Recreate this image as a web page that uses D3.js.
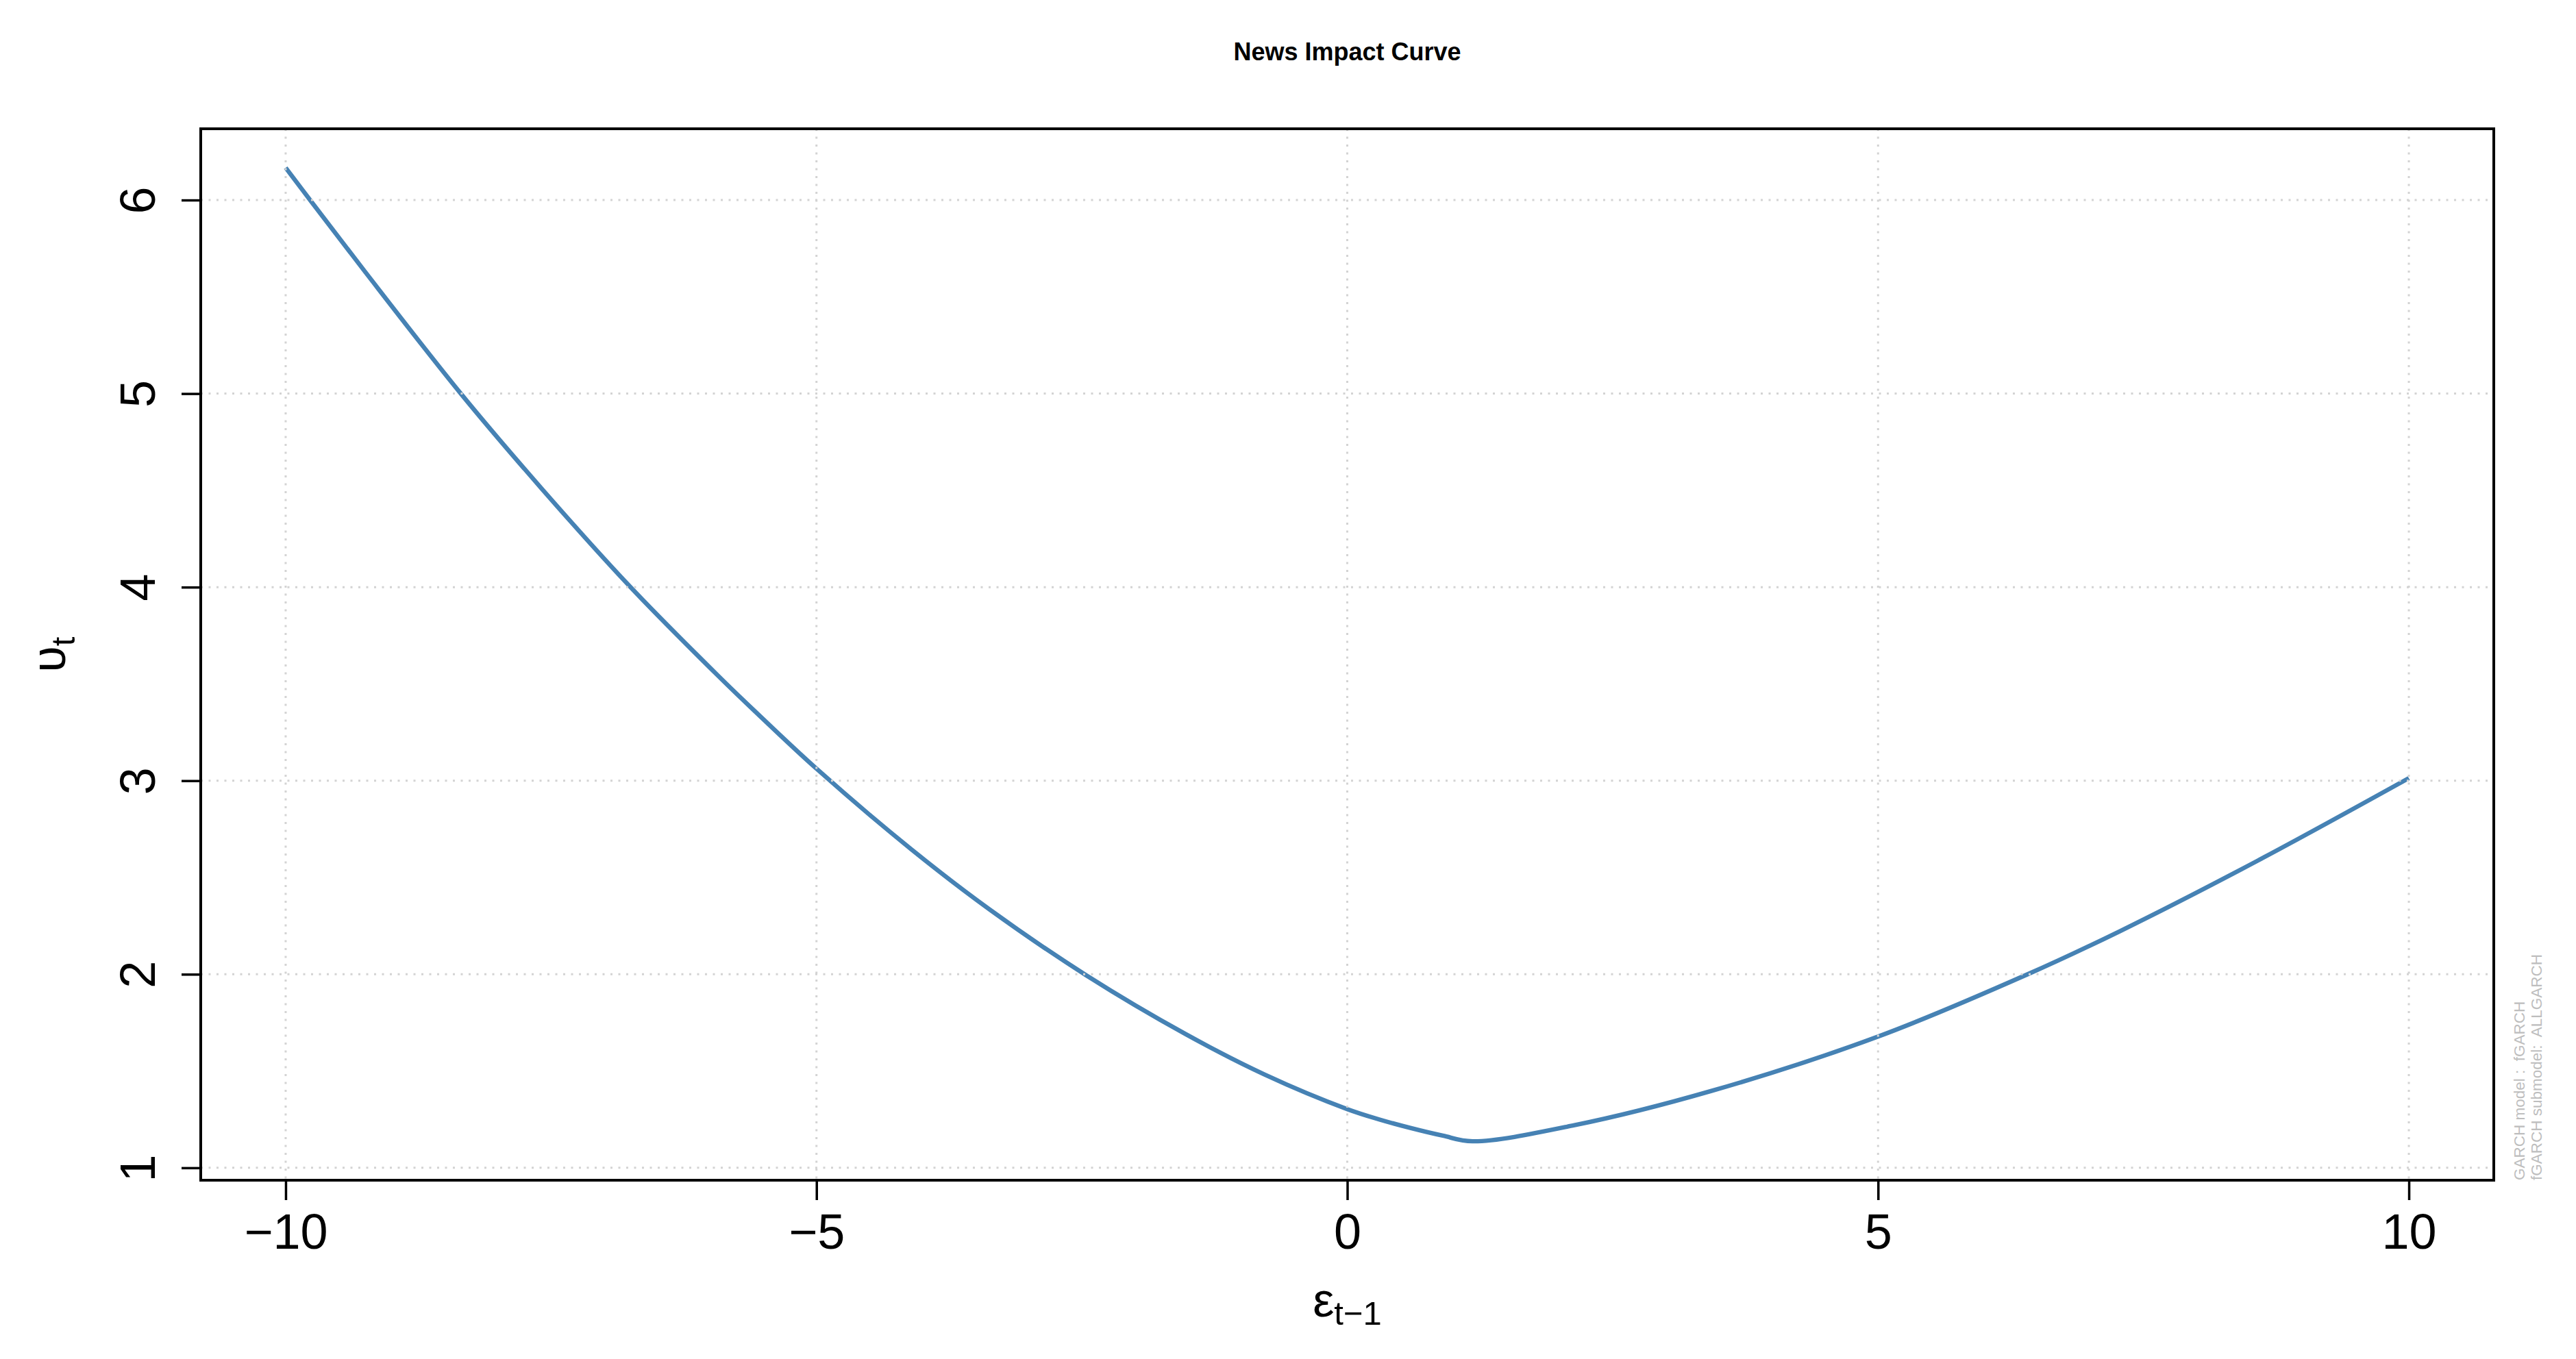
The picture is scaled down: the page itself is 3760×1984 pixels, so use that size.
<!DOCTYPE html>
<html>
<head>
<meta charset="utf-8">
<script src="https://cdnjs.cloudflare.com/ajax/libs/d3/7.8.5/d3.min.js"></script>
<style>
  body { margin: 0; background: #fff; }
  text { font-family: "Liberation Sans", Arial, sans-serif; }
</style>
</head>
<body>
<script>
// data
var epsilon = [-10, -9.77, -9.25, -8.35, -7.59, -6.76, -5.93, -5.59, -5.0, -4.11, -3.37,
    -2.46, -1.52, -0.78, 0, 0.3, 0.6, 0.9, 1.18, 2.14, 3.43, 5.0, 6.41, 7.28, 8.57, 10];
var sigma = [6.167, 6.0, 5.628, 5.0, 4.51, 4.005, 3.544, 3.364, 3.062, 2.647, 2.335,
    1.995, 1.69, 1.482, 1.303, 1.25, 1.205, 1.166, 1.137, 1.22, 1.397, 1.678, 2.0, 2.223, 2.585, 3.013];

var xTicks = [-10, -5, 0, 5, 10];
var xTickLabels = ["\u221210", "\u22125", "0", "5", "10"];
var yTicks = [1, 2, 3, 4, 5, 6];
var yTickLabels = ["1", "2", "3", "4", "5", "6"];

var title = "News Impact Curve";
var modelLines = ["GARCH model :  fGARCH", "fGARCH submodel:  ALLGARCH"];

var W = 3760,
    H = 1984,
    margin = { top: 188, right: 120, bottom: 261, left: 293 },
    width = W - margin.left - margin.right,
    height = H - margin.top - margin.bottom;

var points = epsilon.map(function (e, i) {
    return { x: e, y: sigma[i] };
});

// R style 4% padding on both axes
function pad(ext) {
    var d = (ext[1] - ext[0]) * 0.04;
    return [ext[0] - d, ext[1] + d];
}

var x = d3.scaleLinear()
    .domain(pad(d3.extent(epsilon)))
    .range([0, width]);

var y = d3.scaleLinear()
    .domain(pad(d3.extent(sigma)))
    .range([height, 0]);

var svg = d3.select("body").append("svg")
    .attr("width", W)
    .attr("height", H);

svg.append("rect")
    .attr("width", W)
    .attr("height", H)
    .attr("fill", "#fff");

var g = svg.append("g")
    .attr("transform", "translate(" + margin.left + "," + margin.top + ")");

// de curve
var line = d3.line()
    .x(function (d) { return x(d.x); })
    .y(function (d) { return y(d.y); })
    .curve(d3.curveCatmullRom.alpha(0.5));

g.append("path")
    .datum(points)
    .attr("fill", "none")
    .attr("stroke", "#4682B4")
    .attr("stroke-width", 6.4)
    .attr("stroke-linejoin", "round")
    .attr("d", line);

// dotted grid over the plot
var grid = g.append("g")
    .attr("stroke", "#D3D3D3")
    .attr("stroke-width", 3)
    .attr("stroke-dasharray", "3,8.5");

grid.selectAll("line.v")
    .data(xTicks)
    .enter().append("line")
    .attr("class", "v")
    .attr("x1", function (d) { return x(d); })
    .attr("x2", function (d) { return x(d); })
    .attr("y1", 0)
    .attr("y2", height);

grid.selectAll("line.h")
    .data(yTicks)
    .enter().append("line")
    .attr("class", "h")
    .attr("y1", function (d) { return y(d); })
    .attr("y2", function (d) { return y(d); })
    .attr("x1", 0)
    .attr("x2", width);

// box
g.append("rect")
    .attr("width", width)
    .attr("height", height)
    .attr("fill", "none")
    .attr("stroke", "#000")
    .attr("stroke-width", 4);

// x-as
var xAxis = g.append("g")
    .attr("transform", "translate(0," + height + ")")
    .call(d3.axisBottom(x)
        .tickValues(xTicks)
        .tickSize(29)
        .tickPadding(0)
        .tickFormat(function (d, i) { return xTickLabels[i]; }));

xAxis.select(".domain").remove();
xAxis.selectAll(".tick line").attr("stroke", "#000").attr("stroke-width", 3.5);
xAxis.selectAll(".tick text")
    .attr("y", 100)
    .attr("dy", 0)
    .attr("fill", "#000")
    .attr("font-size", 72);

// y-as, labels parallel to the axis
var yAxis = g.append("g")
    .call(d3.axisLeft(y)
        .tickValues(yTicks)
        .tickSize(28)
        .tickFormat(function (d, i) { return yTickLabels[i]; }));

yAxis.select(".domain").remove();
yAxis.selectAll(".tick line").attr("stroke", "#000").attr("stroke-width", 3.5);
yAxis.selectAll(".tick text")
    .attr("x", 0)
    .attr("y", -67)
    .attr("dy", 0)
    .attr("text-anchor", "middle")
    .attr("transform", "rotate(-90)")
    .attr("fill", "#000")
    .attr("font-size", 72);

// titel
svg.append("text")
    .attr("x", margin.left + width / 2)
    .attr("y", 88)
    .attr("text-anchor", "middle")
    .attr("font-weight", "bold")
    .attr("font-size", 36)
    .text(title);

// x label: epsilon_(t-1)
var xl = svg.append("text")
    .attr("x", margin.left + width / 2)
    .attr("y", 1922)
    .attr("text-anchor", "middle")
    .attr("font-size", 70);
xl.append("tspan").text("\u03B5");
xl.append("tspan").attr("font-size", 49).attr("dy", 12).text("t\u22121");

// y label: upsilon_t
var yl = svg.append("text")
    .attr("transform", "translate(95," + (margin.top + height / 2) + ") rotate(-90)")
    .attr("text-anchor", "middle")
    .attr("font-size", 70);
yl.append("tspan").text("\u03C5");
yl.append("tspan").attr("font-size", 49).attr("dy", 14).text("t");

// model info in de rechter marge
svg.append("g")
    .selectAll("text")
    .data(modelLines)
    .enter().append("text")
    .attr("transform", function (d, i) {
        return "translate(" + (3685 + i * 25) + "," + (margin.top + height) + ") rotate(-90)";
    })
    .attr("font-size", 22.5)
    .attr("fill", "#BEBEBE")
    .style("white-space", "pre")
    .text(function (d) { return d; });
</script>
</body>
</html>
